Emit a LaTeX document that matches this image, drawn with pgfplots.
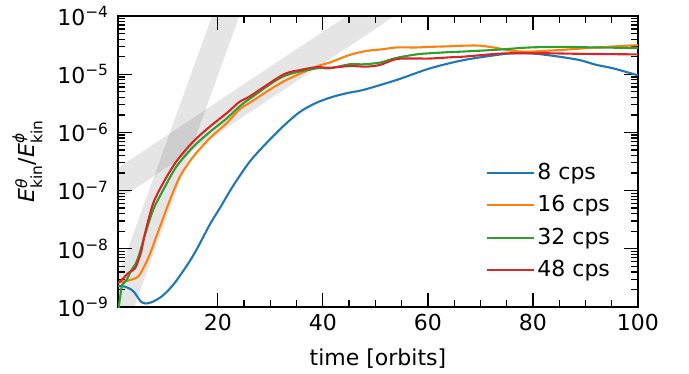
\documentclass[border=0pt]{standalone}
\usepackage{pgfplots}
\pgfplotsset{compat=1.18}
\usepackage{amsmath}
\usepackage{fontspec}
\setmainfont{DejaVu Sans}
\definecolor{c8}{HTML}{1F77B4}
\definecolor{c16}{HTML}{FF7F0E}
\definecolor{c32}{HTML}{2CA02C}
\definecolor{c48}{HTML}{D62728}
\begin{document}
\fontsize{22}{26}\selectfont
\begin{tikzpicture}
\path[use as bounding box] (-118pt,-67pt) rectangle (571pt,307pt);
\begin{axis}[
  at={(0,0)}, anchor=south west,
  scale only axis, width=520pt, height=291pt,
  ymode=log, log basis y=10,
  xmin=1, xmax=100, ymin=1e-9, ymax=1e-4,
  xtick={20,40,60,80,100}, xticklabels={20,40,60,80,100},
  minor x tick num=3,
  tick align=inside,
  major tick length=14pt, minor tick length=7pt,
  every tick/.style={black, line width=1.3pt},
  axis line style={line width=1.6pt},
  yticklabel={10\textsuperscript{−\pgfmathparse{int(round(-\tick))}\pgfmathresult}},
  yticklabel style={xshift=-2pt},
  xlabel={time [orbits]},
  xlabel style={yshift=-3pt},
  ylabel={\textit{E}$^{\text{\itshape θ}}_{\text{kin}}$/\textit{E}$^{\text{\itshape ϕ}}_{\text{kin}}$},
  legend cell align=left,
  legend image code/.code={\draw[#1] (0pt,0pt) -- (47pt,0pt);},
  legend style={at={(0.708,0.502)}, anchor=north west, draw=none, fill=none,
    inner sep=0pt, row sep=8.8pt, column sep=0pt, nodes={inner sep=2pt}},
  every axis plot/.append style={line width=2.1pt},
]
% growth-rate bands
\addplot[fill=black, fill opacity=0.1, draw=none, forget plot] coordinates {
  (-2,5.96e-10) (22,5.96e-4) (27,5.31e-4) (3,5.31e-10)} -- cycle;
\addplot[fill=black, fill opacity=0.1, draw=none, forget plot] coordinates {
  (-5,1.07e-7) (70,3.39e-3) (70,9.55e-4) (-5,3.02e-8)} -- cycle;
% 8 cps
\addplot[c8, smooth] coordinates {
(1,2.29e-9) (2.3,2.24e-9) (3.5,2.0e-9) (4.2,1.74e-9) (4.8,1.45e-9) (5.3,1.25e-9) (5.8,1.17e-9)
(6.4,1.15e-9) (7.3,1.20e-9) (8.3,1.32e-9) (9,1.45e-9) (10.2,1.78e-9) (12.1,2.82e-9)
(15.3,7.59e-9) (18.5,2.63e-8) (20.4,5.01e-8) (22.9,1.20e-7) (26.1,3.16e-7) (29.3,6.61e-7)
(32.4,1.26e-6) (35.6,2.24e-6) (38.8,3.24e-6) (42,4.12e-6) (45.1,4.84e-6) (47.7,5.37e-6)
(54,7.94e-6) (60.4,1.26e-5) (66.7,1.74e-5) (73.1,2.14e-5) (76.2,2.29e-5) (79.4,2.29e-5)
(82.6,2.14e-5) (85.8,1.95e-5) (89,1.74e-5) (92.1,1.445e-5) (95.3,1.26e-5) (100,9.55e-6)
};
\addlegendentry{8 cps}
% 16 cps
\addplot[c16, smooth] coordinates {
(1,2.63e-9) (3.2,2.88e-9) (4.8,3.31e-9) (5.8,4.57e-9) (7,7.76e-9) (8.3,1.62e-8) (9,2.40e-8)
(10.9,6.92e-8) (12.8,1.74e-7) (15.3,3.80e-7) (18.5,7.94e-7) (21.7,1.445e-6) (24.2,2.51e-6)
(26.1,3.24e-6) (32.4,7.41e-6) (38.8,1.35e-5) (41.3,1.585e-5) (45.1,2.14e-5) (48.3,2.51e-5)
(51.5,2.69e-5) (54,2.88e-5) (57.8,2.88e-5) (60.4,2.95e-5) (64.2,3.02e-5) (66.7,3.09e-5)
(69.9,3.09e-5) (73.1,2.82e-5) (76.2,2.51e-5) (79.4,2.45e-5) (85.8,2.63e-5) (92.1,2.88e-5)
(100,3.16e-5)
};
\addlegendentry{16 cps}
% 32 cps
\addplot[c32, smooth] coordinates {
(1,8e-10) (1.5,1.70e-9) (1.8,2.40e-9) (2.6,2.88e-9) (3.6,4.37e-9) (4.4,5.62e-9) (5.1,8.32e-9)
(6,1.585e-8) (7.7,4.68e-8) (9.6,1.02e-7) (12.1,2.57e-7) (15.3,5.62e-7) (18.5,1.02e-6)
(21.7,1.74e-6) (24.2,2.82e-6) (26.1,3.80e-6) (32.4,9.12e-6) (38.8,1.26e-5) (41.3,1.26e-5)
(45.1,1.48e-5) (47.7,1.48e-5) (50.9,1.585e-5) (54,1.905e-5) (57.8,2.19e-5) (60.4,2.29e-5)
(64.2,2.40e-5) (66.7,2.45e-5) (73.1,2.63e-5) (79.4,2.88e-5) (85.8,2.95e-5) (92.1,2.88e-5)
(100,2.82e-5)
};
\addlegendentry{32 cps}
% 48 cps
\addplot[c48, smooth] coordinates {
(1,2.57e-9) (2,3.09e-9) (2.9,3.80e-9) (4.2,4.57e-9) (4.8,6.03e-9) (5.5,9.55e-9) (6.1,1.78e-8)
(7.7,6.03e-8) (9.6,1.35e-7) (12.1,3.16e-7) (15.3,6.92e-7) (18.5,1.26e-6) (21.7,2.14e-6)
(24.2,3.39e-6) (26.1,4.17e-6) (32.4,9.77e-6) (35.6,1.175e-5) (38.8,1.32e-5) (41.3,1.29e-5)
(45.1,1.38e-5) (48.3,1.35e-5) (50.9,1.445e-5) (54,1.82e-5) (57.8,1.86e-5) (60.4,1.86e-5)
(64.2,1.95e-5) (66.7,2.0e-5) (73.1,2.24e-5) (76.2,2.29e-5) (82.6,2.29e-5) (89,2.24e-5)
(100,2.19e-5)
};
\addlegendentry{48 cps}
\end{axis}
\end{tikzpicture}
\end{document}
